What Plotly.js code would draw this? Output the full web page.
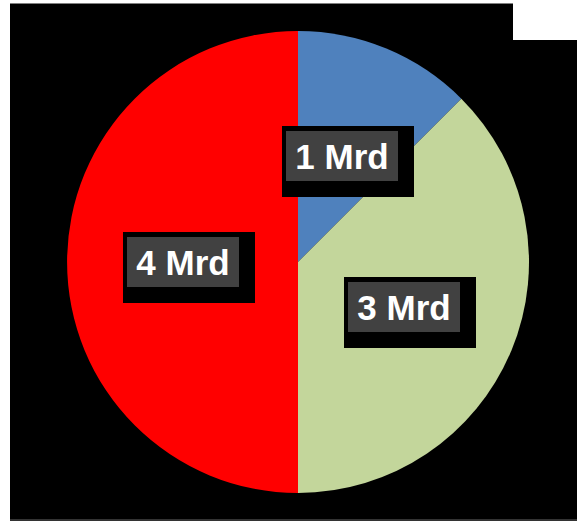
<!DOCTYPE html>
<html>
<head>
<meta charset="utf-8">
<script src="https://cdn.plot.ly/plotly-3.0.1.min.js"></script>
<style>
  html, body { margin: 0; padding: 0; background: #ffffff; width: 577px; height: 523px; overflow: hidden; }
  #frame { position: absolute; left: 10px; top: 3px; width: 567px; height: 518px; background: #000; border-top: 1px solid #7f7f7f; border-bottom: 2px solid #333; box-sizing: border-box; }
  #chart { position: absolute; left: 10px; top: 3px; width: 567px; height: 518px; }
  #corner { position: absolute; left: 513px; top: 0px; width: 64px; height: 40px; background: #ffffff; }
</style>
</head>
<body>
<div id="frame"></div>
<div id="chart"></div>
<div id="corner"></div>
<script>
// Data
const categories = ["A", "B", "C"];
const values = [1, 3, 4];
const labelTexts = ["1 Mrd", "3 Mrd", "4 Mrd"];
const sliceColors = ["#4F81BD", "#C3D69B", "#FF0000"];

// Label placement (paper coordinates within the 567x518 plot area)
const W = 567, H = 518;
const labelCenters = [[331.5, 153], [393.5, 304], [172.5, 259]]; // pixel centers of gray boxes
const shadowOffset = [6, 5.5];

const annotations = [];
labelCenters.forEach((c, i) => {
  annotations.push({
    xref: "paper", yref: "paper",
    x: (c[0] + shadowOffset[0]) / W, y: 1 - (c[1] + shadowOffset[1]) / H,
    xanchor: "center", yanchor: "middle",
    text: " ", showarrow: false,
    width: 132, height: 71,
    bgcolor: "#000000", borderpad: 0, borderwidth: 0
  });
});
labelCenters.forEach((c, i) => {
  annotations.push({
    xref: "paper", yref: "paper",
    x: c[0] / W, y: 1 - c[1] / H,
    xanchor: "center", yanchor: "middle",
    text: "<b>" + labelTexts[i] + "</b>", showarrow: false,
    width: 112, height: 50, valign: "middle", align: "center",
    bgcolor: "#414141", borderpad: 0, borderwidth: 0,
    font: { family: "Liberation Sans, Arial, sans-serif", size: 35, color: "#ffffff" }
  });
});

const trace = {
  type: "pie",
  labels: categories,
  values: values,
  sort: false,
  direction: "clockwise",
  rotation: 0,
  textinfo: "none",
  hoverinfo: "none",
  marker: { colors: sliceColors, line: { width: 0 } },
  domain: { x: [57 / W, 519 / W], y: [28 / H, 490 / H] }
};

const layout = {
  width: W, height: H,
  margin: { l: 0, r: 0, t: 0, b: 0, pad: 0 },
  paper_bgcolor: "rgba(0,0,0,0)",
  plot_bgcolor: "rgba(0,0,0,0)",
  showlegend: false,
  annotations: annotations
};

Plotly.newPlot("chart", [trace], layout, { displayModeBar: false, staticPlot: true });
</script>
</body>
</html>
